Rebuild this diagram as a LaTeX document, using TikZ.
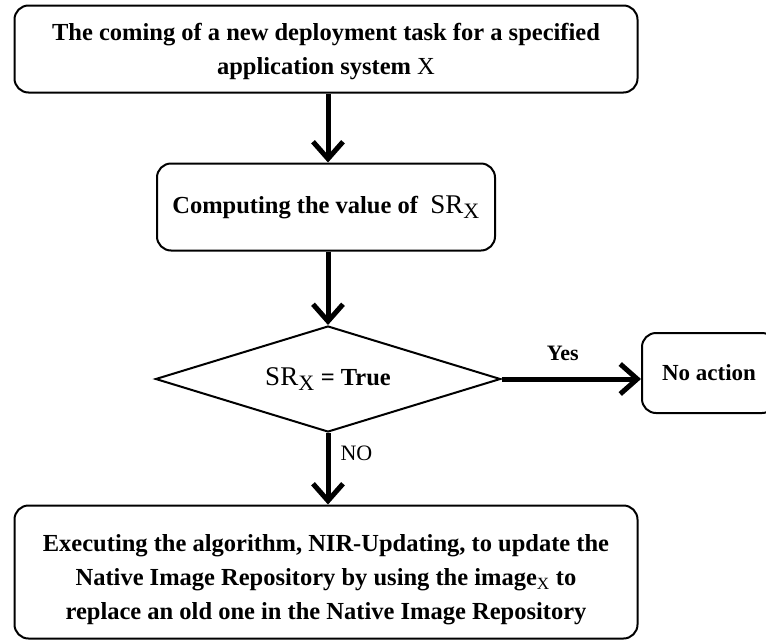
\documentclass[tikz,border=0pt]{standalone}
\usepackage{fontspec}
\setmainfont{Liberation Serif}
\usetikzlibrary{shapes.geometric,arrows.meta}
\tikzset{
  box/.style={draw=black, line width=2pt, rounded corners=14pt, inner sep=0pt},
  btext/.style={align=center, font=\fontsize{24.5}{34}\selectfont\bfseries, inner sep=0pt},
  flow/.style={line width=5pt, -{Straight Barb[length=17pt,width=30pt,line width=5pt]}},
  lbl/.style={font=\fontsize{22}{26}\selectfont, inner sep=0pt}
}
\newcommand{\srx}{{\mdseries\fontsize{27}{30}\selectfont SR\textsubscript{\fontsize{22}{22}\selectfont X}}}
\begin{document}
\begin{tikzpicture}[x=1pt,y=-1pt]
\useasboundingbox (0,0) rectangle (766,643);
\clip (0,0) rectangle (766,643);
\node[box, minimum width=623pt, minimum height=87pt] (top) at (326,49) {};
\node[btext] (toptext) at ([yshift=-3pt]top.center)
  {The coming of a new deployment task for a specified\\application system {\mdseries X}};
\node[box, btext, minimum width=338pt, minimum height=87pt] (comp) at (326,207)
  {Computing the value of \ \srx};
\node[draw=black, line width=2pt, diamond, aspect=3.25, minimum width=345pt, minimum height=106pt, inner sep=0pt, font=\fontsize{24.5}{28}\selectfont\bfseries] (dec) at (328,379)
  {\srx\ = True};
\node[box, btext, minimum width=134pt, minimum height=80pt, font=\fontsize{23}{28}\selectfont\bfseries] (noact) at (709,373) {No action};
\node[box, minimum width=623pt, minimum height=133pt] (exe) at (326,572) {};
\node[btext] (exetext) at ([yshift=-8pt]exe.center)
  {Executing the algorithm, NIR-Updating, to update the\\Native Image Repository by using the image\textsubscript{\mdseries X} to\\replace an old one in the Native Image Repository};
\draw[flow] (top.south -| dec.north) -- (comp.north -| dec.north);
\draw[flow] (comp.south -| dec.north) -- (dec.north);
\draw[flow] (dec.east) -- (noact.west |- dec.east) node[pos=0.44, above=16pt, lbl, font=\fontsize{22}{26}\selectfont\bfseries] (yes) {Yes};
\draw[flow] (dec.south) -- (exe.north -| dec.south) node[pos=0.28, right=10pt, lbl] (no) {NO};
\end{tikzpicture}
\end{document}
